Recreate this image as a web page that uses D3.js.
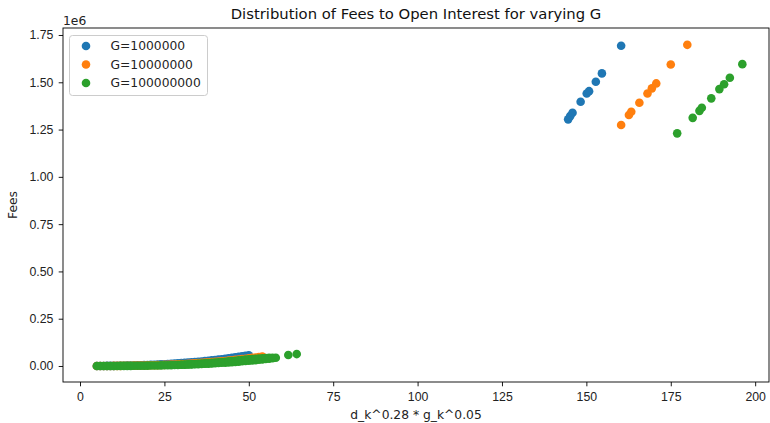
<!DOCTYPE html>
<html>
<head>
<meta charset="utf-8">
<script src="https://cdn.jsdelivr.net/npm/d3@7"></script>
<style>
  body { margin: 0; background: #fff; }
  svg { font-family: "DejaVu Sans", sans-serif; }
</style>
</head>
<body>
<svg id="chart" width="770" height="423"></svg>
<script>
// series labels
var seriesNames = ['G=1000000', 'G=10000000', 'G=100000000'];

// G=1000000 : low cluster (x = 5..50) then the high cluster
var blueX = [5, 6, 7, 8, 9, 10, 11, 12, 13, 14, 15, 16, 17, 18, 19, 20, 21, 22, 23, 24, 25, 26, 27,
             28, 29, 30, 31, 32, 33, 34, 35, 36, 37, 38, 39, 40, 41, 42, 43, 44, 45, 46, 47, 48, 49, 50,
             144.6, 145.2, 145.9, 148.3, 150.1, 150.8, 152.8, 154.6, 160.3];
var blueY = [140, 230, 340, 480, 650, 860, 1100, 1380, 1700, 2060, 2470, 2920, 3420, 3970, 4570,
             5220, 5920, 6680, 7500, 8380, 9320, 10320, 11380, 12510, 13710, 14970, 16310, 17710,
             19180, 20730, 22350, 24050, 25830, 27680, 29610, 31630, 33730, 35910, 38170, 40520,
             42960, 45490, 48100, 50810, 53610, 56500,
             1304000, 1321000, 1339000, 1397000, 1441000, 1453000, 1503000, 1547000, 1693000];

// G=10000000
var orangeX = [5, 6, 7, 8, 9, 10, 11, 12, 13, 14, 15, 16, 17, 18, 19, 20, 21, 22, 23, 24, 25, 26, 27,
               28, 29, 30, 31, 32, 33, 34, 35, 36, 37, 38, 39, 40, 41, 42, 43, 44, 45, 46, 47, 48, 49,
               50, 51, 52, 53, 54,
               160.3, 162.6, 163.3, 165.7, 168.1, 169.4, 170.7, 175.0, 179.9];
var orangeY = [70, 120, 180, 260, 360, 480, 630, 800, 1000, 1220, 1480, 1760, 2080, 2440, 2830,
               3260, 3720, 4230, 4780, 5380, 6010, 6700, 7430, 8210, 9050, 9930, 10860, 11860,
               12900, 14010, 15170, 16390, 17680, 19020, 20430, 21900, 23450, 25050, 26730, 28470,
               30290, 32170, 34130, 36160, 38270, 40450, 42720, 45060, 47500, 50000,
               1274000, 1327000, 1344000, 1392000, 1441000, 1468000, 1494000, 1594000, 1698000];

// G=100000000 : lower row, upper row, two stray points, high cluster
var greenX = [5, 6, 7, 8, 9, 10, 11, 12, 13, 14, 15, 16, 17, 18, 19, 20, 21, 22, 23, 24, 25, 26, 27,
              28, 29, 30, 31, 32, 33, 34, 35, 36, 37, 38, 39, 40, 41, 42, 43, 44, 45, 46, 47, 48, 49,
              50, 51, 52, 53, 54, 55, 56, 57, 58,
              30, 31, 32, 33, 34, 35, 36, 37, 38, 39, 40, 41, 42, 43, 44, 45, 46, 47, 48, 49, 50,
              51, 52, 53, 54, 55, 56, 57,
              61.7, 64.2,
              176.9, 181.5, 183.5, 184.2, 187.0, 189.4, 190.8, 192.5, 196.2];
var greenY = [35, 60, 90, 140, 190, 260, 350, 440, 560, 690, 850, 1020, 1220, 1440, 1680, 1950,
              2250, 2570, 2930, 3310, 3730, 4180, 4660, 5180, 5740, 6330, 6960, 7630, 8350, 9100,
              9900, 10740, 11630, 12560, 13550, 14580, 15660, 16790, 17980, 19210, 20510, 21860,
              23270, 24740, 26270, 27850, 29490, 31200, 32970, 34810, 36710, 38690, 40720, 43500,
              6800, 7500, 8400, 9400, 10500, 11600, 12800, 14000, 15300, 16700, 18100, 19500,
              21000, 22600, 24300, 26100, 28000, 29900, 31800, 33700, 35400, 36900, 38300, 39600,
              40800, 41900, 42900, 43700,
              58000, 63000,
              1230000, 1312000, 1349000, 1365000, 1415000, 1464000, 1490000, 1524000, 1596000];

var xTicks = [0, 25, 50, 75, 100, 125, 150, 175, 200];
var yTicks = [0, 250000, 500000, 750000, 1000000, 1250000, 1500000, 1750000];

var colors = ['#1f77b4', '#ff7f0e', '#2ca02c'];
var fontSize = '12.3px';

var margin = {left: 63, right: 1, top: 28, bottom: 41};
var width = 770 - margin.left - margin.right;
var height = 423 - margin.top - margin.bottom;

var svg = d3.select('#chart');
var g = svg.append('g').attr('transform', 'translate(' + margin.left + ',' + margin.top + ')');

var x = d3.scaleLinear().domain([-5.04, 204.1]).range([0, width]);
var y = d3.scaleLinear().domain([-84600, 1787000]).range([height, 0]);

// points
var series = [[blueX, blueY], [orangeX, orangeY], [greenX, greenY]];
series.forEach(function (s, i) {
    var pts = s[0].map(function (v, j) { return {x: v, y: s[1][j]}; });
    g.append('g').selectAll('circle')
        .data(pts)
        .enter().append('circle')
        .attr('cx', d => x(d.x))
        .attr('cy', d => y(d.y))
        .attr('r', 4.3)
        .style('fill', colors[i]);
});

// axes
var xAxis = g.append('g')
    .attr('transform', 'translate(0,' + height + ')')
    .call(d3.axisBottom(x).tickValues(xTicks).tickFormat(d3.format('d')).tickSizeOuter(0).tickSize(4.3).tickPadding(6.4));
var yAxis = g.append('g')
    .call(d3.axisLeft(y).tickValues(yTicks).tickFormat(d => (d / 1e6).toFixed(2)).tickSizeOuter(0).tickSize(4.3).tickPadding(5.3));
[xAxis, yAxis].forEach(function (a) {
    a.selectAll('text').style('font-size', fontSize).style('fill', '#222');
    a.select('.domain').remove();
    a.selectAll('line').style('stroke', '#000').style('stroke-width', 0.9);
});

// frame
g.append('rect')
    .attr('width', width).attr('height', height)
    .style('fill', 'none').style('stroke', '#000').style('stroke-width', 0.9);

// offset text
svg.append('text').attr('x', 63).attr('y', 25)
    .style('font-size', fontSize).style('fill', '#222').text('1e6');

// title and labels
svg.append('text').attr('x', margin.left + width / 2).attr('y', 19)
    .attr('text-anchor', 'middle').style('font-size', '14.8px').style('fill', '#111')
    .text('Distribution of Fees to Open Interest for varying G');
svg.append('text').attr('x', margin.left + width / 2).attr('y', 418.5)
    .attr('text-anchor', 'middle').style('font-size', fontSize).style('fill', '#222')
    .text('d_k^0.28 * g_k^0.05');
svg.append('text').attr('transform', 'translate(17,' + (margin.top + height / 2) + ') rotate(-90)')
    .attr('text-anchor', 'middle').style('font-size', fontSize).style('fill', '#222')
    .text('Fees');

// legend
var legend = svg.append('g').attr('transform', 'translate(69.5,35.5)');
legend.append('rect')
    .attr('width', 138).attr('height', 60).attr('rx', 3)
    .style('fill', '#fff').style('fill-opacity', 0.8)
    .style('stroke', '#ccc').style('stroke-width', 1);
seriesNames.forEach(function (name, i) {
    var row = legend.append('g').attr('transform', 'translate(0,' + (10.5 + i * 18.5) + ')');
    row.append('circle').attr('cx', 16.5).attr('cy', 0).attr('r', 4.3).style('fill', colors[i]);
    row.append('text').attr('x', 41).attr('y', 4.4).style('font-size', fontSize).style('fill', '#222').text(name);
});
</script>
</body>
</html>
